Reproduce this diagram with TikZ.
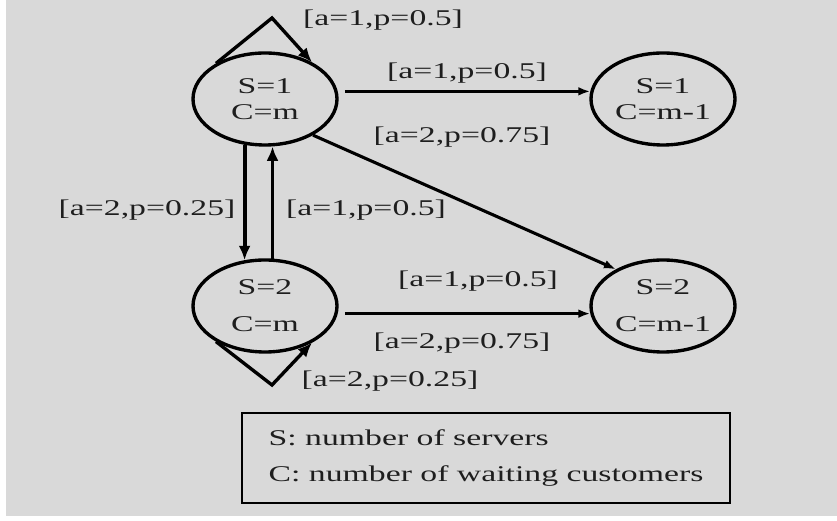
\documentclass[tikz,border=0pt]{standalone}
\usepackage{fontspec}
\setmainfont{Liberation Serif}[FakeStretch=1.5]
\usepackage{tikz}
\usetikzlibrary{arrows.meta,shapes.geometric}
\definecolor{panelgray}{RGB}{217,217,217}
\definecolor{inkgray}{RGB}{30,30,30}

\begin{document}
\begin{tikzpicture}[
  x=0.25cm, y=0.25cm, font=\fontsize{16}{18.5}\selectfont,
  arrow/.style={-{Latex[length=3mm,width=2.2mm]}, line width=1.8pt},
  bigarrow/.style={-{Latex[length=3.6mm,width=3mm]}, line width=2.4pt},
  state/.style={draw, ellipse, line width=2.4pt, minimum width=3.6cm, minimum height=2.3cm, inner sep=0pt, align=center, text=inkgray},
  prob/.style={text=inkgray, inner sep=1pt}
]
% background panel
\useasboundingbox (0,0) rectangle (83.7,52.1);
\fill[white] (0,0) rectangle (83.7,52.1);
\fill[panelgray] (0.6,0.5) rectangle (83.7,52.1);

% states
\node[state] (s1m)  at (26.5,42.2) {S=1\\C=m};
\node[state] (s1m1) at (66.3,42.2) {S=1\\C=m-1};
\node[state] (s2m)  at (26.5,21.5) {S=2\\[7.8pt]C=m};
\node[state] (s2m1) at (66.3,21.5) {S=2\\[7.8pt]C=m-1};

% self loops
\coordinate (toploop) at (27.2,50.3);
\coordinate (botloop) at (27.2,13.6);
\draw[bigarrow] (s1m.144) -- (toploop) -- (s1m.38);
\draw[bigarrow] (s2m.216) -- (botloop) -- (s2m.-38);

% transitions between states
\draw[arrow, shorten <=0.18cm] (s1m.6) -- (s1m1.174);
\draw[arrow, line width=2.2pt] (s1m.-37) -- (s2m1.142);
\draw[arrow, shorten <=0.18cm] (s2m.-6) -- (s2m1.186);
\draw[bigarrow, line width=2.8pt] (s1m.-114) -- (s2m.114);
\draw[bigarrow, line width=2.8pt] (s2m.81) -- (s1m.-81);

% action / probability labels
\node[prob] (p1) at (38.3,50.1) {[a=1,p=0.5]};
\node[prob] (p2) at (46.7,44.8) {[a=1,p=0.5]};
\node[prob] (p3) at (46.2,38.4) {[a=2,p=0.75]};
\node[prob] (p4) at (14.7,31.1) {[a=2,p=0.25]};
\node[prob] (p5) at (36.6,31.1) {[a=1,p=0.5]};
\node[prob] (p6) at (47.8,24.0) {[a=1,p=0.5]};
\node[prob] (p7) at (46.2,17.8) {[a=2,p=0.75]};
\node[prob] (p8) at (39.0,14.0) {[a=2,p=0.25]};

% legend
\node[draw, line width=2pt, minimum width=12.2cm, minimum height=2.25cm, align=left, text=inkgray]
     (legend) at (48.6,6.3) {S: number of servers\\[7.8pt]C: number of waiting customers};
\end{tikzpicture}
\end{document}
